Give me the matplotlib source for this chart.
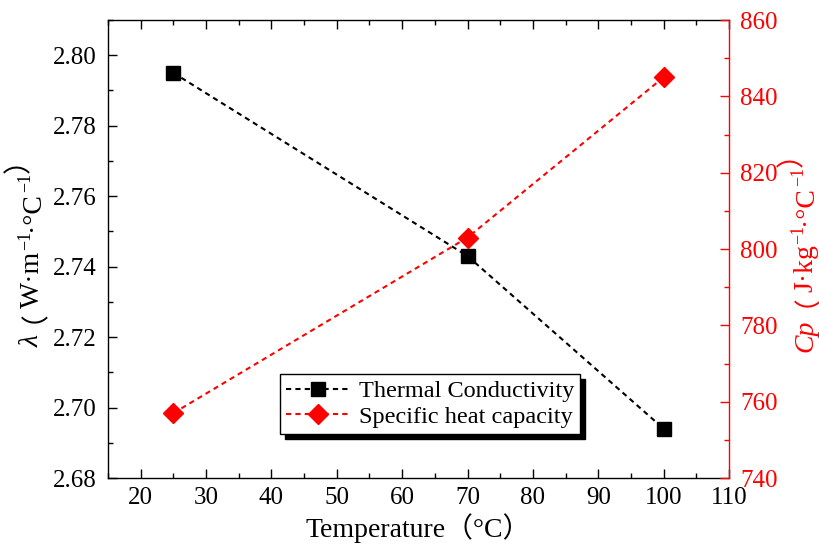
import matplotlib
matplotlib.use("Agg")
import matplotlib.pyplot as plt
from matplotlib.ticker import MultipleLocator

plt.rcParams['font.family'] = ['Liberation Serif', 'DejaVu Serif', 'Noto Sans CJK SC']

# data
temperature = [25, 70, 100]
conductivity = [2.795, 2.743, 2.694]
heat_capacity = [757, 803, 845]

x_label = "Temperature（°C）"
# axis labels split into pieces: (text, kind)  kind: 'it', 'rm', 'sup', 'open', 'close'
left_label = [("λ", 'it'), ("（", 'open'), ("W·m", 'rm'), ("−1", 'sup'),
              ("·°C", 'rm'), ("−1", 'sup'), ("）", 'close')]
right_label = [("Cp", 'it'), ("（", 'open'), ("J·kg", 'rm'), ("−1", 'sup'),
               ("·°C", 'rm'), ("−1", 'sup'), ("）", 'close')]

fig = plt.figure(figsize=(8.19, 5.47), dpi=100)
ax = fig.add_axes([108 / 819, 1 - 478 / 547, 621 / 819, 458 / 547])
ax2 = ax.twinx()

l1, = ax.plot(temperature, conductivity, color='black', ls=(0, (2.5, 2)), lw=1.5,
              marker='s', ms=10, mfc='black', mec='black', label='Thermal Conductivity')
l2, = ax2.plot(temperature, heat_capacity, color='red', ls=(0, (2.5, 2)), lw=1.5,
               marker='D', ms=10, mfc='red', mec='red', label='Specific heat capacity')

ax.set_xlim(15, 110)
ax.set_ylim(2.68, 2.81)
ax2.set_ylim(740, 860)

ax.xaxis.set_major_locator(MultipleLocator(10))
ax.xaxis.set_minor_locator(MultipleLocator(5))
ax.yaxis.set_minor_locator(MultipleLocator(0.01))
ax.set_yticks([2.68, 2.70, 2.72, 2.74, 2.76, 2.78, 2.80])
ax.set_yticklabels(["2.68", "2.70", "2.72", "2.74", "2.76", "2.78", "2.80"])
ax.set_xticks([20, 30, 40, 50, 60, 70, 80, 90, 100, 110])
ax2.yaxis.set_major_locator(MultipleLocator(20))
ax2.yaxis.set_minor_locator(MultipleLocator(10))

ax.tick_params(axis='both', which='both', direction='in', labelsize=18)
ax.tick_params(axis='x', which='both', top=True)
ax.tick_params(which='major', length=6.5, width=1.0)
ax.tick_params(which='minor', length=3.6, width=1.0)
ax.tick_params(axis='y', pad=8)
ax.tick_params(axis='x', pad=6.5)
ax2.tick_params(axis='y', which='both', direction='in', colors='red', labelsize=18, pad=8)
ax2.tick_params(which='major', length=6.5, width=1.0)
ax2.tick_params(which='minor', length=3.6, width=1.0)

for s in ['left', 'bottom', 'top']:
    ax.spines[s].set_linewidth(1.0)
ax.spines['right'].set_visible(False)
ax2.spines['left'].set_visible(False)
ax2.spines['top'].set_visible(False)
ax2.spines['bottom'].set_visible(False)
ax2.spines['right'].set_color('red')
ax2.spines['right'].set_linewidth(1.0)

ax.set_xlabel(x_label, fontsize=20, labelpad=3)

# offsets in points (across, along) for each kind of piece
OFFSETS = {'sup': (-6.5, 0), 'open': (-9, 9), 'close': (-9, 0), 'after_open': (0, -9)}


def vertical_label(axis, pieces, x, y0, color):
    # chain rotated pieces from bottom to top
    prev = None
    prev_kind = None
    for txt, kind in pieces:
        kw = dict(rotation=90, rotation_mode='anchor', ha='left', va='baseline',
                  color=color, fontsize=13 if kind == 'sup' else 20,
                  family='Noto Sans CJK SC' if kind in ('open', 'close') else 'Liberation Serif',
                  style='italic' if kind == 'it' else 'normal')
        off = OFFSETS.get('after_open' if prev_kind == 'open' else kind, (0, 0))
        if prev is None:
            prev = axis.text(x, y0, txt, transform=axis.transAxes, **kw)
        else:
            prev = axis.annotate(txt, xy=(x, 1), xycoords=(axis.transAxes, prev),
                                 xytext=off, textcoords='offset points',
                                 annotation_clip=False, **kw)
        prev_kind = kind


vertical_label(ax, left_label, -0.111, 0.285, 'black')
vertical_label(ax2, right_label, 1.134, 0.275, 'red')

leg = ax2.legend(handles=[l1, l2], loc='lower left', bbox_to_anchor=(0.277, 0.096),
                 borderaxespad=0, fontsize=17.5, fancybox=False, framealpha=1,
                 edgecolor='black', handlelength=2.6, handletextpad=0.4,
                 borderpad=0.25, labelspacing=0.15,
                 shadow={'ox': 3.5, 'oy': -3.5, 'color': 'black', 'alpha': 1})
leg.get_frame().set_linewidth(1.0)

fig.savefig("out.png", dpi=100)
